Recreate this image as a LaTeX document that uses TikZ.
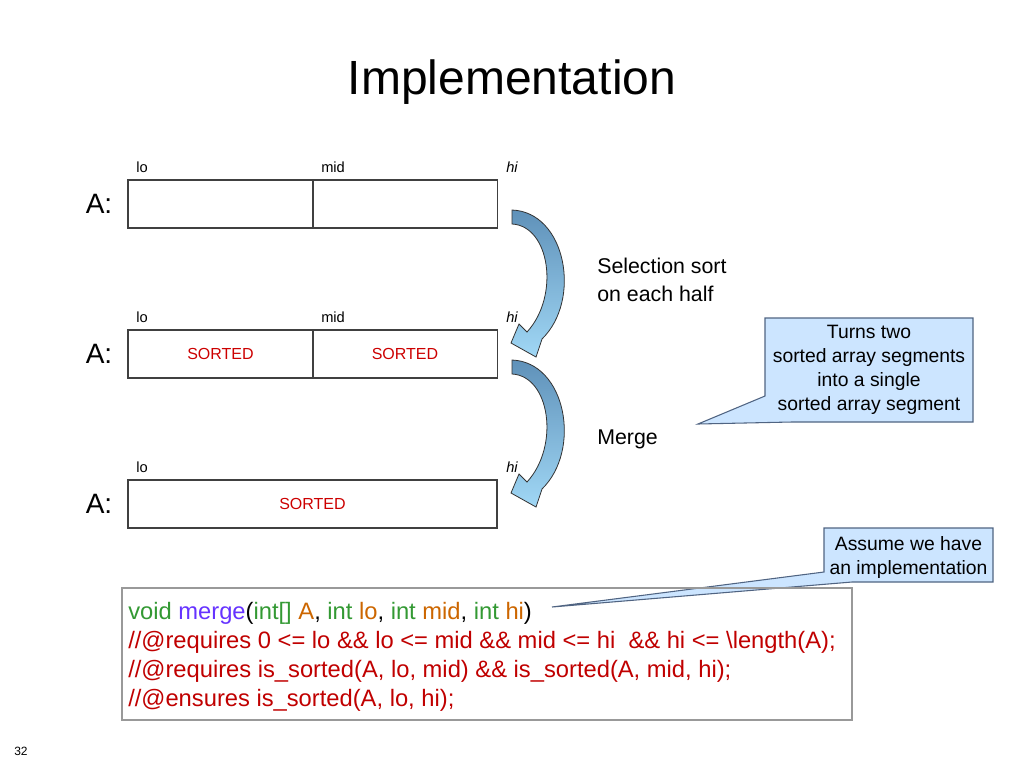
\documentclass[tikz,border=0pt]{standalone}
\usepackage{fontspec}
\setmainfont{Liberation Sans}
\begin{document}
\begin{tikzpicture}[x=0.75pt,y=-0.75pt,
  lbl/.style={font=\fontsize{11}{13}\selectfont,inner sep=0pt},
  cell/.style={draw=black!75,line width=0.8pt,minimum height=36pt,inner sep=0pt},
  srt/.style={text=red!80!black,font=\fontsize{12}{14}\selectfont},
  aname/.style={font=\fontsize{21}{24}\selectfont,inner sep=0pt},
  side/.style={font=\fontsize{16}{21.5}\selectfont,inner sep=0pt,anchor=west,align=left},
  call/.style={font=\fontsize{14.5}{18}\selectfont,align=center,inner sep=0pt},
  callbox/.style={fill=cfill,draw=cbord,line width=0.8pt},
  bigarrow/.style={draw=black!80,line width=0.6pt,top color=atop,bottom color=abot}]
\definecolor{cfill}{RGB}{204,229,255}\definecolor{cbord}{RGB}{80,100,130}
\definecolor{atop}{RGB}{95,145,185}\definecolor{abot}{RGB}{160,215,245}
\useasboundingbox (0,0) rectangle (1024,768);
\node[font=\fontsize{36}{40}\selectfont] (title) at (512,82) {Implementation};
% array rows
\foreach \y/\n in {0/a,150/b}{
  \node[cell,minimum width=138.75pt] (\n l) at (220.5,204+\y) {};
  \node[cell,minimum width=138.75pt] (\n r) at (405,204+\y) {};
  \node[lbl,anchor=west] (\n lo) at (136,167+\y) {lo};
  \node[lbl,anchor=west] (\n mid) at (321,167+\y) {mid};
  \node[lbl,anchor=west] (\n hi) at (506,167+\y) {\itshape hi};
  \node[aname] (\n A) at (99,204+\y) {A:};
}
\node[srt] at (bl) {SORTED};
\node[srt] at (br) {SORTED};
\node[cell,minimum width=276.75pt] (cc) at (312.5,504) {};
\node[srt] at (cc) {SORTED};
\node[lbl,anchor=west] (clo) at (136,467) {lo};
\node[lbl,anchor=west] (chi) at (506,467) {\itshape hi};
\node[aname] (cA) at (99,504) {A:};
% curved arrows
\foreach \y in {0,150}{
\path[bigarrow] (512,210+\y) .. controls (566,212+\y) and (582,300+\y) .. (542,339+\y) -- (536,357+\y) -- (511,343+\y) -- (519,324+\y) -- (527,332+\y) .. controls (560,296+\y) and (550,226+\y) .. (512,224+\y) -- cycle;
}
\node[side] (sel) at (597,280) {Selection sort\\on each half};
\node[side] (mrg) at (597,439) {Merge};
% callouts
\coordinate (p1) at (698,424);
\coordinate (p2) at (552,607);
\path[callbox] (765,318) -- (973,318) -- (973,422) -- (792,422) -- (p1) -- (765,396) -- cycle;
\node[call] (c1) at (869,370) {Turns two\\sorted array segments\\into a single\\sorted array segment};
\path[callbox] (824,528) -- (993,528) -- (993,582) -- (852,582) -- (p2) -- (824,572) -- cycle;
\node[call] (c2) at (908.5,557) {Assume we have\\an implementation};
% code
\definecolor{cg}{RGB}{51,153,51}\definecolor{cp}{RGB}{102,51,255}
\definecolor{co}{RGB}{204,102,0}\definecolor{cr}{RGB}{192,0,0}
\node[draw=black!40,line width=0.8pt,minimum width=547.5pt,minimum height=99pt] (code) at (487,654) {};
\node[anchor=north west,align=left,inner sep=0pt,font=\fontsize{17.8}{21.8}\selectfont] (ctext) at (128,602) {%
\textcolor{cg}{void} \textcolor{cp}{merge}(\textcolor{cg}{int[]} \textcolor{co}{A}, \textcolor{cg}{int} \textcolor{co}{lo}, \textcolor{cg}{int} \textcolor{co}{mid}, \textcolor{cg}{int} \textcolor{co}{hi})\\
\textcolor{cr}{//@requires 0 <= lo \&\& lo <= mid \&\& mid <= hi\ \ \&\& hi <= \textbackslash length(A);}\\
\textcolor{cr}{//@requires is\_sorted(A, lo, mid) \&\& is\_sorted(A, mid, hi);}\\
\textcolor{cr}{//@ensures is\_sorted(A, lo, hi);}};
\node[font=\fontsize{9}{11}\selectfont] (pg) at (21,751) {32};
\end{tikzpicture}
\end{document}
